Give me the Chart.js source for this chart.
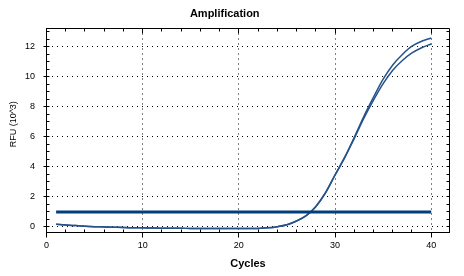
<!DOCTYPE html>
<html>
<head>
<meta charset="utf-8">
<script src="https://cdn.jsdelivr.net/npm/chart.js@4/dist/chart.umd.min.js"></script>
<style>
	html, body { margin: 0; padding: 0; background: #fff; }
	canvas { display: block; }
</style>
</head>
<body>
<canvas id="chart" width="464" height="276"></canvas>
<script>
// Данные графика амплификации
const cycles = [1, 2, 3, 4, 5, 6, 7, 8, 9, 10, 11, 12, 13, 14, 15, 16, 17, 18, 19, 20,
	21, 22, 23, 24, 25, 26, 27, 28, 29, 30, 31, 32, 33, 34, 35, 36, 37, 38, 39, 40];
const wellUpper = [0.18, 0.13, 0.09, 0.05, 0.02, 0.00, -0.02, -0.04, -0.05, -0.06,
	-0.07, -0.08, -0.09, -0.09, -0.10, -0.10, -0.10, -0.11, -0.11, -0.11,
	-0.11, -0.10, -0.06, 0.02, 0.15, 0.40, 0.76, 1.37, 2.28, 3.48,
	4.65, 5.98, 7.38, 8.65, 9.85, 10.80, 11.50, 12.05, 12.38, 12.60];
const wellLower = [0.18, 0.13, 0.09, 0.05, 0.02, 0.00, -0.02, -0.04, -0.05, -0.06,
	-0.07, -0.08, -0.09, -0.09, -0.10, -0.10, -0.10, -0.11, -0.11, -0.11,
	-0.11, -0.10, -0.06, 0.02, 0.15, 0.40, 0.75, 1.35, 2.25, 3.45,
	4.60, 5.90, 7.25, 8.45, 9.55, 10.45, 11.10, 11.60, 11.95, 12.20];
const thresholdValue = 1;
const thresholdRange = [1, 40];

const font = 'Liberation Sans, Arial, sans-serif';

// Рамка сверху/справа и внутренние засечки
const frameTicks = {
	id: 'frameTicks',
	afterDraw(chart) {
		const { ctx, chartArea: a, scales: { x, y } } = chart;
		const px = v => Math.floor(v) + 0.5;
		ctx.save();
		ctx.strokeStyle = '#000';
		ctx.lineWidth = 1;
		ctx.beginPath();
		ctx.moveTo(px(a.left), px(a.top));
		ctx.lineTo(px(a.right), px(a.top));
		ctx.lineTo(px(a.right), px(a.bottom));
		for (let v = 0; v <= 41; v += 2) {
			const xp = px(x.getPixelForValue(v));
			const len = v % 10 === 0 ? 5 : 3;
			ctx.moveTo(xp, px(a.top));
			ctx.lineTo(xp, px(a.top) + len);
			if (v % 10 !== 0) {
				ctx.moveTo(xp, px(a.bottom));
				ctx.lineTo(xp, px(a.bottom) - 3);
			}
		}
		for (let v = 0; v <= 13; v += 0.5) {
			const yp = px(y.getPixelForValue(v));
			ctx.moveTo(px(a.left), yp);
			ctx.lineTo(px(a.left) + 3, yp);
			ctx.moveTo(px(a.right), yp);
			ctx.lineTo(px(a.right) - 3, yp);
		}
		ctx.stroke();
		ctx.restore();
	}
};

const curveStyle = {
	borderColor: 'rgb(38, 82, 140)',
	borderWidth: 1.5,
	pointRadius: 0,
	fill: false,
	cubicInterpolationMode: 'monotone'
};

new Chart(document.getElementById('chart'), {
	type: 'line',
	data: {
		datasets: [
			{
				label: 'Threshold',
				data: thresholdRange.map(c => ({ x: c, y: thresholdValue })),
				borderColor: 'rgb(0, 62, 124)',
				borderWidth: 3,
				pointRadius: 0
			},
			{ label: 'A1', data: cycles.map((c, i) => ({ x: c, y: wellUpper[i] })), ...curveStyle },
			{ label: 'A2', data: cycles.map((c, i) => ({ x: c, y: wellLower[i] })), ...curveStyle }
		]
	},
	options: {
		responsive: false,
		animation: false,
		devicePixelRatio: 1,
		layout: { padding: { left: 0, right: 14.5, top: 0, bottom: 0 } },
		plugins: {
			legend: { display: false },
			tooltip: { enabled: false },
			title: {
				display: true,
				text: 'Amplification',
				color: '#000',
				font: { family: font, size: 11, weight: 'bold' },
				padding: { top: 7, bottom: 8.3 }
			}
		},
		scales: {
			x: {
				type: 'linear',
				min: 0,
				max: 41.9,
				afterFit: s => { s.height = 43.5; },
				ticks: {
					stepSize: 10,
					includeBounds: false,
					color: '#000',
					padding: 3,
					maxRotation: 0,
					font: { family: font, size: 9 }
				},
				grid: {
					color: '#000',
					lineWidth: 1,
					tickLength: 5,
					tickColor: '#000',
					tickBorderDash: []
				},
				border: { display: true, color: '#000', width: 1, dash: [1, 4] },
				title: {
					display: true,
					text: 'Cycles',
					color: '#000',
					font: { family: font, size: 11, weight: 'bold' },
					padding: { top: 0, bottom: 5.4 }
				}
			},
			y: {
				min: -0.37,
				max: 13.23,
				afterFit: s => { s.width = 46.5; },
				ticks: {
					stepSize: 2,
					includeBounds: false,
					color: '#000',
					padding: 8.5,
					font: { family: font, size: 9 }
				},
				grid: {
					color: '#000',
					lineWidth: 1,
					tickLength: 3,
					tickColor: '#000',
					tickBorderDash: []
				},
				border: { display: true, color: '#000', width: 1, dash: [1, 4] },
				title: {
					display: true,
					// пробелы в начале сдвигают подпись вверх, как в оригинале
					text: '     RFU (10^3)',
					color: '#000',
					font: { family: font, size: 9 },
					padding: { top: 8, bottom: 0 }
				}
			}
		}
	},
	plugins: [frameTicks]
});
</script>
</body>
</html>
